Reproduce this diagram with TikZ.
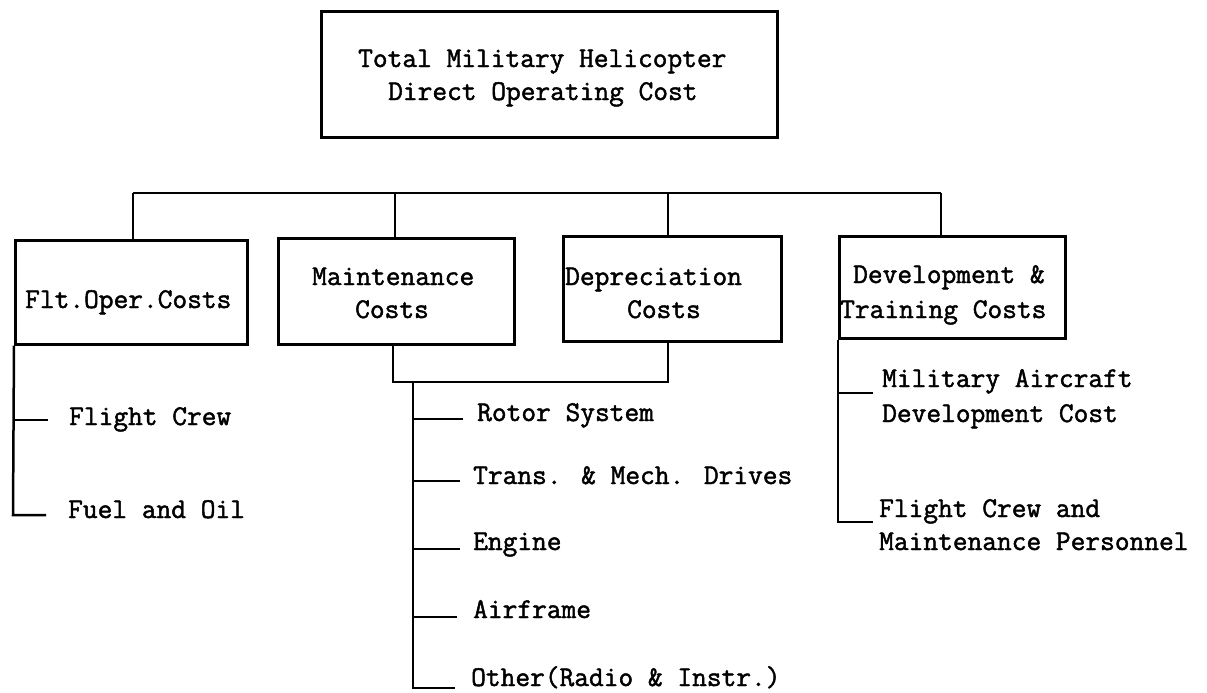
\documentclass[tikz,border=0pt]{standalone}
\usepackage{fontspec}
\newfontfamily\typew{Latin Modern Mono}[BoldFont={Latin Modern Mono}, BoldFeatures={FakeBold=1.6}]
\begin{document}
\begin{tikzpicture}[x=1pt,y=-1pt]
\tikzset{
  box/.style={draw, line width=2.6pt, inner sep=0pt, anchor=north west},
  lbl/.style={anchor=base west, inner sep=0pt, font=\fontsize{28.6pt}{33pt}\selectfont\typew\bfseries},
  wire/.style={line width=2.5pt},
}
\fill[white] (0,0) rectangle (1207,693);
\useasboundingbox (0,0) rectangle (1207,693);

% boxes
\node[box, minimum width=456pt, minimum height=126pt] (total) at (320,10) {};
\node[box, minimum width=232pt, minimum height=104pt] (flt) at (14,239) {};
\node[box, minimum width=236pt, minimum height=106pt] (maint) at (277,237) {};
\node[box, minimum width=218pt, minimum height=105pt] (dep) at (562,235) {};
\node[box, minimum width=226pt, minimum height=102pt] (dev) at (838,235) {};

% box texts
\node[lbl] (total1) at (358,67) {Total Military Helicopter};
\node[lbl] (total2) at (388,100) {Direct Operating Cost};
\node[lbl] (flt1) at (25,308) {Flt.Oper.Costs};
\node[lbl] (maint1) at (312,285) {Maintenance};
\node[lbl] (maint2) at (355,318) {Costs};
\node[lbl] (dep1) at (565,285) {Depreciation};
\node[lbl] (dep2) at (627,318) {Costs};
\node[lbl] (dev1) at (853,283) {Development \&};
\node[lbl] (dev2) at (840,318) {Training Costs};

% leaf texts
\node[lbl] (fcrew) at (69,425) {Flight Crew};
\node[lbl] (fuel) at (68,518) {Fuel and Oil};
\node[lbl] (rotor) at (477,421) {Rotor System};
\node[lbl] (trans) at (473,484) {Trans. \& Mech. Drives};
\node[lbl] (engine) at (473,550) {Engine};
\node[lbl] (airframe) at (473,618) {Airframe};
\node[lbl] (other) at (471,686) {Other(Radio \& Instr.)};
\node[lbl] (mil1) at (882,387) {Military Aircraft};
\node[lbl] (mil2) at (882,422) {Development Cost};
\node[lbl] (crew1) at (879,517) {Flight Crew and};
\node[lbl] (crew2) at (879,550) {Maintenance Personnel};

% bus
\coordinate (b1) at (133,193);
\coordinate (b2) at (395,193);
\coordinate (b3) at (668,193);
\coordinate (b4) at (941,193);
\draw[wire] (b1) -- (b4);
\draw[wire] (b1) -- (b1 |- flt.north);
\draw[wire] (b2) -- (b2 |- maint.north);
\draw[wire] (b3) -- (b3 |- dep.north);
\draw[wire] (b4) -- (b4 |- dev.north);

% flight operation branch
\coordinate (fc) at (13,420);
\coordinate (fcE) at (48,420);
\coordinate (fo) at (13,515);
\coordinate (foE) at (46,515);
\draw[wire] (flt.south west |- flt.south) -- (fo) -- (foE);
\draw[wire] (fc) -- (fcE);

% maintenance / depreciation branch
\coordinate (mj) at (393,382);
\coordinate (dj) at (668,382);
\draw[wire] (maint.south -| mj) -- (mj) -- (dj) -- (dep.south -| dj);
\coordinate (mt) at (413,382);
\coordinate (m1) at (413,419);  \coordinate (m1E) at (463,419);
\coordinate (m2) at (413,481);  \coordinate (m2E) at (460,481);
\coordinate (m3) at (413,549);  \coordinate (m3E) at (460,549);
\coordinate (m4) at (413,617);  \coordinate (m4E) at (457,617);
\coordinate (m5) at (413,688);  \coordinate (m5E) at (455,688);
\draw[wire] (mt) -- (m5) -- (m5E);
\draw[wire] (m1) -- (m1E);
\draw[wire] (m2) -- (m2E);
\draw[wire] (m3) -- (m3E);
\draw[wire] (m4) -- (m4E);

% development branch
\coordinate (d1) at (838,393);  \coordinate (d1E) at (873,393);
\coordinate (d2) at (838,522);  \coordinate (d2E) at (873,522);
\draw[wire] (dev.south west) -- (d2) -- (d2E);
\draw[wire] (d1) -- (d1E);
\end{tikzpicture}
\end{document}
